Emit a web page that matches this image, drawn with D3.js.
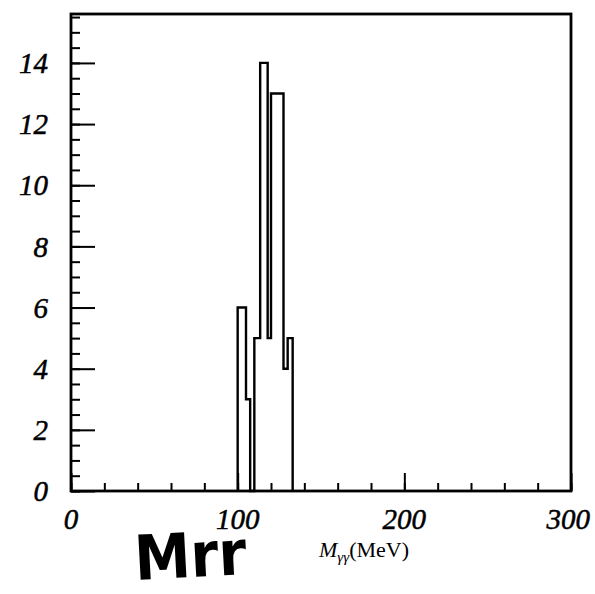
<!DOCTYPE html>
<html>
<head>
<meta charset="utf-8">
<script src="https://cdn.jsdelivr.net/npm/d3@7/dist/d3.min.js"></script>
<style>
  html, body { margin: 0; padding: 0; background: #fff; }
  svg { display: block; }
  .num { font-family: "Liberation Serif", "DejaVu Serif", serif; font-style: italic; }
</style>
</head>
<body>
<svg id="chart" width="595" height="594"></svg>
<script>
// Two-photon invariant mass histogram: bin edges (MeV) and entries per bin
const binEdges = [100, 105, 107.5, 110, 113.5, 118, 120, 127.5, 130, 133];
const binCounts = [6, 3, 0, 5, 14, 5, 13, 4, 5];

// Axis ticks
const xMajorTicks = [0, 100, 200, 300];
const xMinorTicks = d3.range(0, 301, 20);
const yMajorTicks = [0, 2, 4, 6, 8, 10, 12, 14];
const yMinorTicks = d3.range(0, 15.6, 0.5);

const svg = d3.select("#chart");

const x = d3.scaleLinear().domain([0, 300]).range([71, 571]);
const y = d3.scaleLinear().domain([0, 15.6]).range([491, 14]);

const ink = "#000";

// Frame
svg.append("rect")
  .attr("x", x(0)).attr("y", y(15.6))
  .attr("width", x(300) - x(0)).attr("height", y(0) - y(15.6))
  .attr("fill", "none").attr("stroke", ink).attr("stroke-width", 2.8);

// Y axis: major and minor ticks drawn inward
const yMinorAxis = d3.axisRight(y).tickValues(yMinorTicks).tickSize(9).tickFormat("");
const yMajorAxis = d3.axisRight(y).tickValues(yMajorTicks).tickSize(24).tickFormat("");
[yMinorAxis, yMajorAxis].forEach(ax => {
  const g = svg.append("g").attr("transform", `translate(${x(0)},0)`).call(ax);
  g.select(".domain").remove();
  g.selectAll("line").attr("stroke", ink).attr("stroke-width", 2);
});

// X axis: ticks drawn upward from the bottom edge
const xMinorAxis = d3.axisTop(x).tickValues(xMinorTicks).tickSize(8).tickFormat("");
const xMajorAxis = d3.axisTop(x).tickValues(xMajorTicks).tickSize(18).tickFormat("");
[xMinorAxis, xMajorAxis].forEach(ax => {
  const g = svg.append("g").attr("transform", `translate(0,${y(0)})`).call(ax);
  g.select(".domain").remove();
  g.selectAll("line").attr("stroke", ink).attr("stroke-width", 2);
});

// Y tick labels
svg.append("g").selectAll("text")
  .data(yMajorTicks).join("text")
  .attr("class", "num")
  .attr("x", 48)
  .attr("y", d => y(d))
  .attr("dy", "0.35em")
  .attr("text-anchor", "end")
  .attr("font-size", 29)
  .attr("fill", ink)
  .attr("stroke", ink).attr("stroke-width", 0.5)
  .text(d => d);

// X tick labels
svg.append("g").selectAll("text")
  .data(xMajorTicks).join("text")
  .attr("class", "num")
  .attr("x", d => d === 300 ? x(d) + 19 : x(d))
  .attr("y", 529)
  .attr("text-anchor", d => d === 300 ? "end" : "middle")
  .attr("font-size", 29)
  .attr("fill", ink)
  .attr("stroke", ink).attr("stroke-width", 0.5)
  .text(d => d);

// Histogram outline
const pts = [[binEdges[0], 0]];
binCounts.forEach((c, i) => {
  pts.push([binEdges[i], c]);
  pts.push([binEdges[i + 1], c]);
});
pts.push([binEdges[binEdges.length - 1], 0]);

svg.append("path")
  .datum(pts)
  .attr("d", d3.line().x(d => x(d[0])).y(d => y(d[1])))
  .attr("fill", "none")
  .attr("stroke", ink)
  .attr("stroke-width", 2.4)
  .attr("stroke-linejoin", "miter");

// Axis title
const title = svg.append("text")
  .attr("x", 319).attr("y", 557)
  .attr("font-family", "Liberation Serif, DejaVu Serif, serif")
  .attr("font-size", 22)
  .attr("fill", ink);
title.append("tspan").attr("font-style", "italic").text("M");
title.append("tspan").attr("font-style", "italic").attr("font-size", 15).attr("dy", 5).text("γγ");
title.append("tspan").attr("dy", -5).text("(MeV)");

// Handwritten annotation
svg.append("text")
  .attr("x", 134).attr("y", 577)
  .attr("font-family", "DejaVu Sans, sans-serif")
  .attr("font-weight", "bold")
  .attr("font-size", 62)
  .attr("textLength", 112)
  .attr("lengthAdjust", "spacingAndGlyphs")
  .attr("transform", "rotate(-3,190,552)")
  .attr("fill", "#000")
  .text("Mrr");
</script>
</body>
</html>
